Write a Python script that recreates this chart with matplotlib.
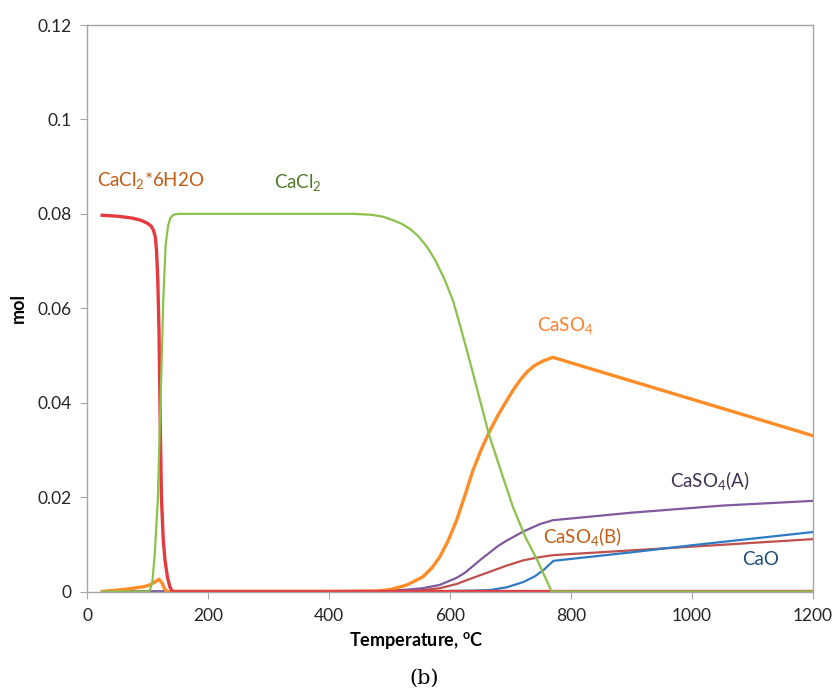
import matplotlib
matplotlib.use("Agg")
import matplotlib.pyplot as plt

plt.rcParams["font.family"] = ["Lato", "DejaVu Sans"]
plt.rcParams["mathtext.default"] = "regular"

# CaCl2*6H2O
t_hyd = [25, 50, 75, 90, 100, 106, 110, 113, 115, 117, 119, 121, 123, 126, 129, 133, 137, 141, 400, 770, 1200]
v_hyd = [0.0797, 0.0795, 0.0791, 0.0786, 0.0780, 0.0774, 0.0765, 0.0750, 0.0720, 0.0660, 0.0550, 0.0360,
         0.0200, 0.0110, 0.0065, 0.0030, 0.0010, 0.0, 0.0, 0.0, 0.0]

# CaCl2
t_cl = [25, 100, 104, 108, 112, 117, 121, 126, 130, 134, 138, 143, 150, 300, 440, 470, 489, 505, 520, 534,
        548, 562, 575, 590, 605, 620, 638, 664, 685, 704, 725, 744, 768, 1200]
v_cl = [0.0, 0.0, 0.0003, 0.002, 0.008, 0.0193, 0.038, 0.0616, 0.0735, 0.0775, 0.0792, 0.0798, 0.0800,
        0.0800, 0.0800, 0.0798, 0.0794, 0.0787, 0.0779, 0.0768, 0.0752, 0.0730, 0.0703, 0.0664, 0.0616,
        0.0548, 0.0462, 0.0334, 0.0252, 0.0179, 0.0114, 0.0067, 0.0, 0.0]

# CaSO4
t_so4 = [25, 66, 93, 104, 112, 119, 124, 128, 132, 140, 400, 480, 501, 529, 555, 570, 583, 597, 611, 625,
         638, 652, 666, 680, 694, 705, 716, 728, 740, 755, 770, 1200]
v_so4 = [0.0, 0.0005, 0.0010, 0.0014, 0.0020, 0.0026, 0.0018, 0.0006, 0.0, 0.0, 0.0, 0.0001, 0.0004,
         0.0014, 0.0031, 0.0050, 0.0073, 0.0108, 0.0151, 0.0205, 0.0257, 0.0302, 0.0341, 0.0375, 0.0405,
         0.0428, 0.0448, 0.0466, 0.0479, 0.0489, 0.0496, 0.0330]

# CaSO4(A)
t_a = [25, 450, 500, 530, 555, 583, 611, 625, 638, 652, 666, 680, 694, 721, 749, 770, 900, 1050, 1200]
v_a = [0.0, 0.0, 0.0002, 0.0004, 0.0007, 0.0014, 0.0029, 0.0040, 0.0054, 0.0069, 0.0083, 0.0097, 0.0108,
       0.0127, 0.0143, 0.0151, 0.0167, 0.0182, 0.0192]

# CaSO4(B)
t_b = [25, 500, 530, 555, 583, 611, 638, 666, 694, 721, 749, 770, 1000, 1200]
v_b = [0.0, 0.0, 0.0001, 0.0003, 0.0007, 0.0016, 0.0029, 0.0042, 0.0055, 0.0066, 0.0073, 0.0077, 0.0095, 0.0111]

# CaO
t_cao = [25, 560, 600, 640, 666, 694, 721, 740, 755, 765, 771, 900, 1000, 1100, 1200]
v_cao = [0.0, 0.0, 0.0001, 0.0002, 0.0003, 0.0009, 0.0020, 0.0032, 0.0046, 0.0058, 0.0065, 0.0083, 0.0098,
         0.0112, 0.0126]

x_ticks = [0, 200, 400, 600, 800, 1000, 1200]
y_ticks = [0, 0.02, 0.04, 0.06, 0.08, 0.1, 0.12]
y_labels = ["0", "0.02", "0.04", "0.06", "0.08", "0.1", "0.12"]

fig = plt.figure(figsize=(8.35, 6.89), dpi=100)
ax = fig.add_axes([0.1042, 0.1415, 0.8695, 0.8222])

ax.plot(t_b, v_b, color="#C0504D", lw=1.6)
ax.plot(t_cao, v_cao, color="#2E7BC4", lw=1.6)
ax.plot(t_a, v_a, color="#7F5A9E", lw=1.6)
ax.plot(t_so4, v_so4, color="#FF8C26", lw=2.4)
ax.plot(t_hyd, v_hyd, color="#E53A3F", lw=2.4)
ax.plot(t_cl, v_cl, color="#8CC24A", lw=1.6)

fs = 13.5
ax.text(16, 0.0870, "CaCl$_2$*6H2O", color="#C55A11", fontsize=fs, va="center")
ax.text(309, 0.0866, "CaCl$_2$", color="#4F7A28", fontsize=fs, va="center")
ax.text(743, 0.0563, "CaSO$_4$", color="#FF7F27", fontsize=fs, va="center")
ax.text(964, 0.0236, "CaSO$_4$(A)", color="#403152", fontsize=fs, va="center")
ax.text(754, 0.0116, "CaSO$_4$(B)", color="#C55A11", fontsize=fs, va="center")
ax.text(1082, 0.0067, "CaO", color="#1F4E79", fontsize=fs, va="center")

ax.set_xlim(0, 1200)
ax.set_ylim(0, 0.12)
ax.set_xticks(x_ticks)
ax.set_yticks(y_ticks)
ax.set_yticklabels(y_labels)
ax.tick_params(direction="out", length=5, color="#A6A6A6", labelsize=12.5, labelcolor="#262626",
               top=False, right=False)
ax.tick_params(axis="x", pad=7)
ax.tick_params(axis="y", pad=6)
for s in ax.spines.values():
    s.set_color("#A6A6A6")
    s.set_linewidth(1.0)

fig.text(0.0216, 0.553, "mol", rotation=90, fontsize=13, fontweight="bold", ha="center", va="center")
fig.text(0.498, 0.071, "Temperature, $^{o}$C", fontsize=13, fontweight="bold", ha="center", va="center")
fig.text(0.508, 0.016, "(b)", fontsize=15, family="DejaVu Serif", ha="center", va="center")

fig.savefig("out.png", dpi=100)
